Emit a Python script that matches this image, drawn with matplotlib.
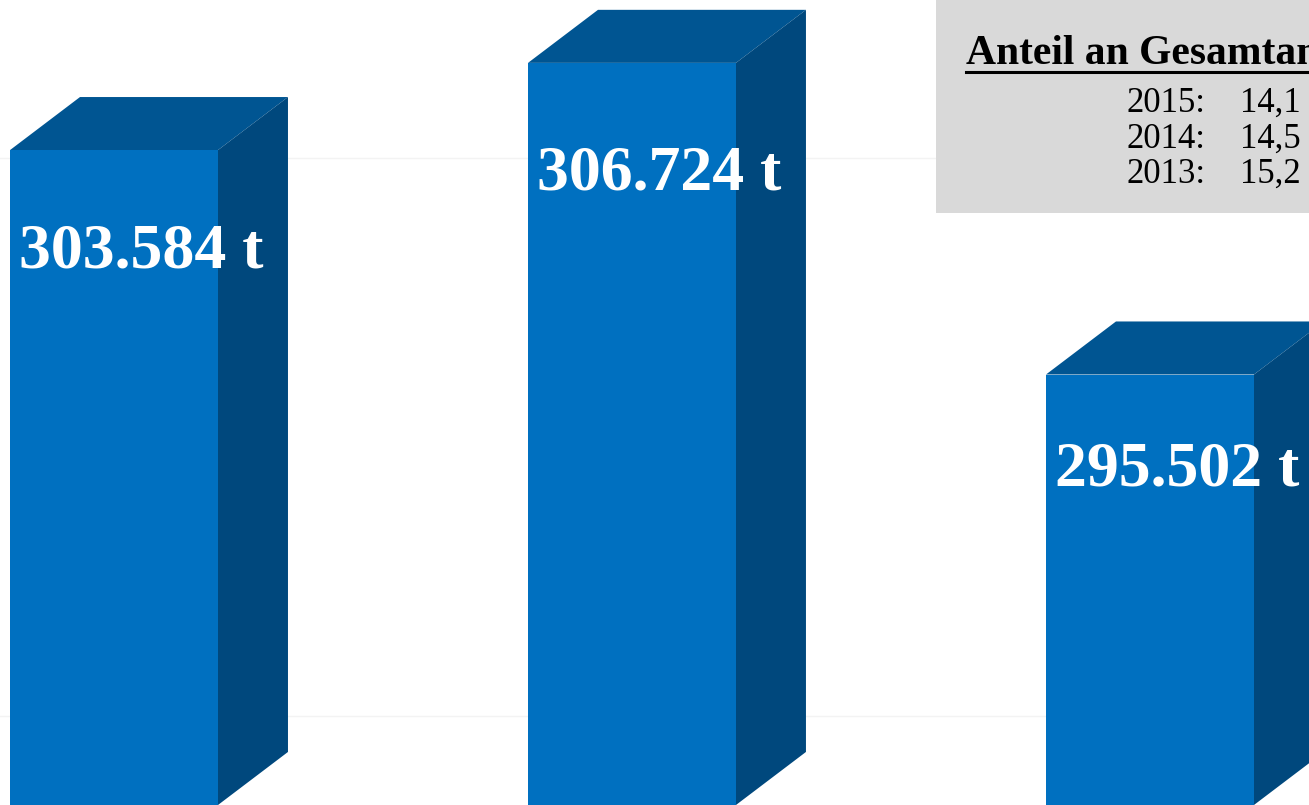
import matplotlib.pyplot as plt
from matplotlib.lines import Line2D
from matplotlib.patches import Rectangle

# data
years = ['2013', '2014', '2015']
values = [303.584, 306.724, 295.502]
labels = ['303.584 t', '306.724 t', '295.502 t']
share_years = ['2015', '2014', '2013']
share_values = ['14,1', '14,5', '15,2']
grid_values = [281.3, 301.4]

base = 280.0
bar_w = 0.4015
depth_x = 0.1351
depth_y = 1.91
label_drop = [3.69, 4.02, 3.44]  # how far below the bar top the label sits

front_col = '#0070C0'
top_col = '#005592'
side_col = '#00487D'

fig = plt.figure(figsize=(13.09, 8.05), dpi=100)
ax = fig.add_axes([0, 0, 1, 1])
ax.set_xlim(-0.2201, 2.307)
ax.set_ylim(base, base + 805 / 27.77)
ax.axis('off')

# faint back-wall gridlines
for g in grid_values:
    ax.axhline(g + depth_y, color='#F3F3F3', lw=1, zorder=0)

x = list(range(len(values)))
ax.bar(x, [v - base for v in values], bottom=base, width=bar_w,
       color=front_col, zorder=3)

for xi, v in zip(x, values):
    l = xi - bar_w / 2
    r = xi + bar_w / 2
    # top face
    ax.fill([l, r, r + depth_x, l + depth_x], [v, v, v + depth_y, v + depth_y],
            color=top_col, lw=0, zorder=2)
    # side face
    ax.fill([r, r + depth_x, r + depth_x, r], [base, base + depth_y, v + depth_y, v],
            color=side_col, lw=0, zorder=2)

for xi, v, lab, d in zip(x, values, labels, label_drop):
    ax.text(xi - bar_w / 2 + 0.017, v - d, lab, ha='left', va='center',
            color='white', fontsize=46, fontweight='bold',
            family='Liberation Serif', zorder=5)

# info box top right
fig.add_artist(Rectangle((936 / 1309, 1 - 213 / 805), 1, 213 / 805,
                         transform=fig.transFigure, facecolor='#D9D9D9',
                         edgecolor='none', zorder=6))
fig.text(966 / 1309, 1 - 64 / 805, 'Anteil an Gesamtanfall', ha='left', va='baseline',
         fontsize=30, fontweight='bold', family='Liberation Serif', zorder=7)
fig.add_artist(Line2D([966 / 1309, 1.0], [1 - 72 / 805, 1 - 72 / 805],
                      transform=fig.transFigure, color='black', lw=2.2, zorder=7))
for i, (yr, sv) in enumerate(zip(share_years, share_values)):
    yb = 112 + i * 35.5
    fig.text(1127 / 1309, 1 - yb / 805, yr + ':', ha='left', va='baseline',
             fontsize=25, family='Liberation Serif', zorder=7)
    fig.text(1240 / 1309, 1 - yb / 805, sv + ' %', ha='left', va='baseline',
             fontsize=25, family='Liberation Serif', zorder=7)

fig.savefig('out.png', dpi=100)
